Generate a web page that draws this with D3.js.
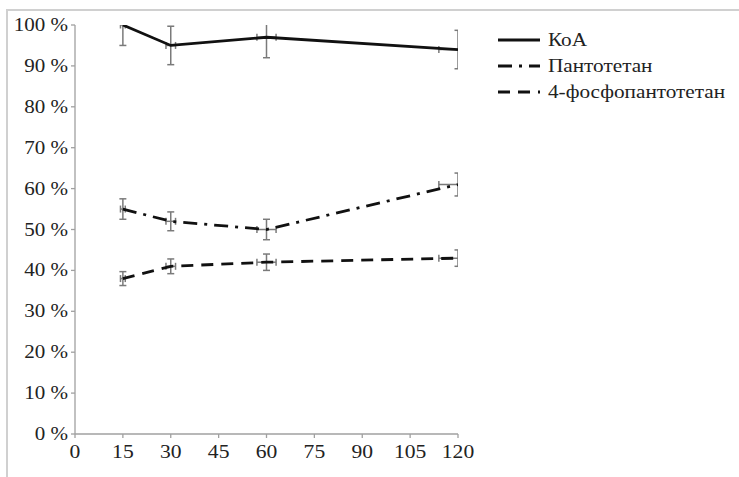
<!DOCTYPE html>
<html>
<head>
<meta charset="utf-8">
<script src="https://cdn.jsdelivr.net/npm/d3@7"></script>
<style>
  body { margin: 0; background: #fff; }
  svg text { font-family: "Liberation Serif", "DejaVu Serif", serif; }
</style>
</head>
<body>
<svg id="grafico" width="739" height="477"></svg>
<script>
// dados
const tempos = [15, 30, 60, 120];
const seriesNomes = ["КоА", "Пантотетан", "4-фосфопантотетан"];
const valoresKoA = [100, 95, 97, 94];
const errosKoA = [5, 4.7, 5, 4.7];
const valoresPant = [55, 52, 50, 61];
const errosPant = [2.5, 2.3, 2.5, 2.8];
const valoresFosfo = [38, 41, 42, 43];
const errosFosfo = [1.7, 1.8, 2, 2];
const erroXPct = 0.05; // barras horizontais: 5 % do tempo
const ticksX = [0, 15, 30, 45, 60, 75, 90, 105, 120];
const ticksY = [0, 10, 20, 30, 40, 50, 60, 70, 80, 90, 100];

const svg = d3.select("#grafico");
const esticar = 1.2; // o texto da figura original é esticado na horizontal

// moldura cinza clara
svg.append("path")
  .attr("d", "M7,477 V10 H739")
  .attr("fill", "none")
  .attr("stroke", "#d0d0d0")
  .attr("stroke-width", 2);

const x = d3.scaleLinear().domain([0, 120]).range([75, 458]);
const y = d3.scaleLinear().domain([0, 100]).range([434, 25]);

// eixos
svg.append("line").attr("x1", x(0)).attr("x2", x(0)).attr("y1", y(0)).attr("y2", y(100))
  .attr("stroke", "#a0a0a0").attr("stroke-width", 1.3);
svg.append("line").attr("x1", x(0)).attr("x2", x(120)).attr("y1", y(0)).attr("y2", y(0))
  .attr("stroke", "#a0a0a0").attr("stroke-width", 1.3);

svg.append("g").selectAll("line").data(ticksY).join("line")
  .attr("x1", x(0) - 4).attr("x2", x(0))
  .attr("y1", d => y(d)).attr("y2", d => y(d))
  .attr("stroke", "#a0a0a0").attr("stroke-width", 1.3);

svg.append("g").selectAll("line").data(ticksX).join("line")
  .attr("x1", d => x(d)).attr("x2", d => x(d))
  .attr("y1", y(0)).attr("y2", y(0) + 4)
  .attr("stroke", "#a0a0a0").attr("stroke-width", 1.3);

svg.append("g").selectAll("text").data(ticksY).join("text")
  .attr("transform", d => `translate(68,${y(d) + 6}) scale(1.17,1)`)
  .attr("text-anchor", "end")
  .attr("font-size", 18)
  .attr("fill", "#222")
  .text(d => d + " %");

svg.append("g").selectAll("text").data(ticksX).join("text")
  .attr("transform", d => `translate(${x(d)},458) scale(${esticar},1)`)
  .attr("text-anchor", "middle")
  .attr("font-size", 18)
  .attr("fill", "#222")
  .text(d => d);

// área de plotagem recortada
svg.append("clipPath").attr("id", "recorte")
  .append("rect").attr("x", x(0)).attr("y", y(100)).attr("width", x(120) - x(0)).attr("height", y(0) - y(100));

const plot = svg.append("g").attr("clip-path", "url(#recorte)");

const series = [
  { nome: seriesNomes[0], valores: valoresKoA, erros: errosKoA, traco: null },
  { nome: seriesNomes[1], valores: valoresPant, erros: errosPant, traco: "14,7,3,7" },
  { nome: seriesNomes[2], valores: valoresFosfo, erros: errosFosfo, traco: "12,8" }
];

const linha = d3.line().x(d => x(d.t)).y(d => y(d.v));

series.forEach(s => {
  const pts = tempos.map((t, i) => ({ t, v: s.valores[i], e: s.erros[i] }));
  const gE = plot.append("g").attr("stroke", "#7a7a7a").attr("stroke-width", 1.5);

  // barras de erro verticais
  pts.forEach(p => {
    gE.append("line").attr("x1", x(p.t)).attr("x2", x(p.t))
      .attr("y1", y(p.v - p.e)).attr("y2", y(p.v + p.e));
    [p.v - p.e, p.v + p.e].forEach(v => {
      gE.append("line").attr("x1", x(p.t) - 3.5).attr("x2", x(p.t) + 3.5)
        .attr("y1", y(v)).attr("y2", y(v));
    });
    // barras de erro horizontais
    const ex = p.t * erroXPct;
    gE.append("line").attr("x1", x(p.t - ex)).attr("x2", x(p.t + ex))
      .attr("y1", y(p.v)).attr("y2", y(p.v));
    [p.t - ex, p.t + ex].forEach(t => {
      gE.append("line").attr("x1", x(t)).attr("x2", x(t))
        .attr("y1", y(p.v) - 3.5).attr("y2", y(p.v) + 3.5);
    });
  });

  plot.append("path")
    .datum(pts)
    .attr("d", linha)
    .attr("fill", "none")
    .attr("stroke", "#111")
    .attr("stroke-width", 2.8)
    .attr("stroke-dasharray", s.traco);
});

// legenda
const legY = [40, 66, 92];
const leg = svg.append("g");
series.forEach((s, i) => {
  leg.append("line")
    .attr("x1", 498).attr("x2", 540)
    .attr("y1", legY[i]).attr("y2", legY[i])
    .attr("stroke", "#111").attr("stroke-width", 2.8)
    .attr("stroke-dasharray", s.traco);
  leg.append("text")
    .attr("transform", `translate(548,${legY[i] + 6}) scale(1.18,1)`)
    .attr("font-size", 18)
    .attr("fill", "#222")
    .text(s.nome);
});
</script>
</body>
</html>
